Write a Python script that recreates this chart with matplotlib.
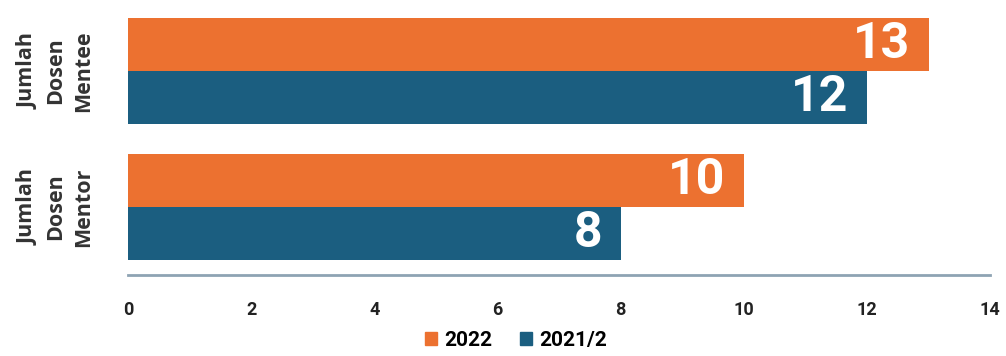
import matplotlib.pyplot as plt
from matplotlib.patches import Patch
import numpy as np

categories = ['Jumlah\nDosen\nMentor', 'Jumlah\nDosen\nMentee']
series_names = ['2022', '2021/2']
vals_2022 = [10, 13]
vals_2021 = [8, 12]
ticks = [0, 2, 4, 6, 8, 10, 12, 14]

orange = '#EC7130'
blue = '#1B5E80'
font = ['Roboto', 'DejaVu Sans']
label_font = ['Open Sans', 'DejaVu Sans']

fig = plt.figure(figsize=(10.06, 3.56), dpi=100)
ax = fig.add_axes([0.1272, 0.2275, 0.857, 0.7641])

y = np.arange(len(categories))
h = 0.39
b1 = ax.barh(y + h / 2, vals_2022, height=h, color=orange)
b2 = ax.barh(y - h / 2, vals_2021, height=h, color=blue)

for bars, vals in ((b1, vals_2022), (b2, vals_2021)):
    for bar, v in zip(bars, vals):
        ax.text(v - 0.3, bar.get_y() + bar.get_height() / 2, str(v),
                ha='right', va='center', color='white', fontsize=36,
                fontweight='bold', family=font)

ax.set_xlim(0, 14)
ax.set_ylim(-0.5, 1.5)
ax.set_xticks(ticks)
ax.set_xticklabels([str(t) for t in ticks], fontsize=13, fontweight='bold',
                   family=font, color='#222222')
ax.set_yticks(y)
ax.set_yticklabels(categories, rotation=90, va='center', ha='center',
                   fontsize=15.5, fontweight='bold', family=label_font,
                   color='#333333', linespacing=1.4)
ax.tick_params(axis='both', length=0)
ax.tick_params(axis='x', pad=19)
ax.tick_params(axis='y', pad=52)
for s in ['top', 'right', 'left']:
    ax.spines[s].set_visible(False)
ax.spines['bottom'].set_color('#8EA3B3')
ax.spines['bottom'].set_linewidth(2)

handles = [Patch(color=orange, label=series_names[0]),
           Patch(color=blue, label=series_names[1])]
fig.legend(handles=handles, loc='lower center', bbox_to_anchor=(0.513, -0.035),
           ncol=2, frameon=False, handlelength=0.6, handleheight=0.6,
           handletextpad=0.35, columnspacing=1.3,
           prop={'family': font, 'weight': 'bold', 'size': 15})

fig.savefig('out.png', dpi=100)
